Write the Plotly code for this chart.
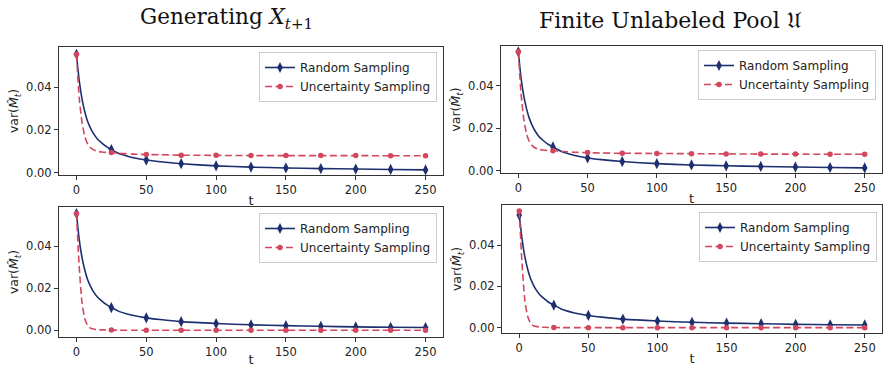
import plotly.graph_objects as go

# ---- data ----
t_dense = [0, 2, 4, 6, 8, 10, 12, 15, 18, 21, 25, 30, 35, 40, 50, 60, 75, 100, 125, 150, 175, 200, 225, 250]
t_marks = [0, 25, 50, 75, 100, 125, 150, 175, 200, 225, 250]

# Generating X_{t+1} (top-left)
rand_tl = [0.0555, 0.043, 0.0345, 0.0285, 0.0240, 0.0210, 0.0185, 0.0158, 0.0140, 0.0124, 0.0108, 0.0091, 0.0080, 0.0071, 0.0059, 0.0051, 0.0042, 0.0032, 0.0026, 0.0022, 0.0019, 0.0017, 0.0015, 0.0013]
unc_tl = [0.0555, 0.035, 0.0235, 0.0170, 0.0135, 0.0118, 0.0108, 0.0100, 0.0097, 0.0095, 0.0094, 0.0091, 0.0089, 0.0087, 0.0085, 0.0084, 0.0082, 0.0081, 0.0080, 0.0080, 0.0080, 0.0080, 0.0079, 0.0079]

# Finite Unlabeled Pool (top-right)
rand_tr = [0.0560, 0.0435, 0.0350, 0.0290, 0.0245, 0.0213, 0.0188, 0.0160, 0.0142, 0.0126, 0.0112, 0.0094, 0.0082, 0.0073, 0.0060, 0.0052, 0.0043, 0.0033, 0.0027, 0.0023, 0.0020, 0.0017, 0.0015, 0.0013]
unc_tr = [0.0560, 0.036, 0.0240, 0.0172, 0.0136, 0.0118, 0.0108, 0.0100, 0.0097, 0.0095, 0.0094, 0.0091, 0.0089, 0.0087, 0.0085, 0.0083, 0.0082, 0.0081, 0.0080, 0.0079, 0.0078, 0.0078, 0.0077, 0.0077]

# bottom-left
rand_bl = [0.0555, 0.043, 0.0345, 0.0285, 0.0240, 0.0210, 0.0185, 0.0158, 0.0140, 0.0124, 0.0108, 0.0091, 0.0080, 0.0071, 0.0059, 0.0051, 0.0041, 0.0032, 0.0026, 0.0022, 0.0019, 0.0016, 0.0014, 0.0013]
unc_bl = [0.0555, 0.030, 0.0130, 0.0055, 0.0022, 0.0010, 0.0006, 0.0003, 0.0002, 0.0001, 0.0001, 0.0, 0.0, 0.0, 0.0, 0.0, 0.0, 0.0, 0.0, 0.0, 0.0, 0.0, 0.0, 0.0]

# bottom-right
rand_br = [0.0545, 0.0430, 0.0345, 0.0285, 0.0240, 0.0210, 0.0185, 0.0158, 0.0140, 0.0124, 0.0109, 0.0092, 0.0080, 0.0071, 0.0059, 0.0051, 0.0041, 0.0032, 0.0026, 0.0022, 0.0019, 0.0016, 0.0014, 0.0013]
unc_br = [0.0565, 0.031, 0.0135, 0.0056, 0.0023, 0.0010, 0.0006, 0.0003, 0.0002, 0.0001, 0.0001, 0.0, 0.0, 0.0, 0.0, 0.0, 0.0, 0.0, 0.0, 0.0, 0.0, 0.0, 0.0, 0.0]

series_names = ["Random Sampling", "Uncertainty Sampling"]
titles = ["Generating <i>X</i><sub><i>t</i>+1</sub>", "Finite Unlabeled Pool 𝔘"]
x_ticks = [0, 50, 100, 150, 200, 250]
y_ticks = [0.0, 0.02, 0.04]
y_ticktext = ["0.00", "0.02", "0.04"]

BLUE = "#1d2f6f"
RED = "#d2475d"

W, H = 883, 367

def px_x(a, b):
    return [a / W, b / W]

def px_y(top, bot):
    return [1 - bot / H, 1 - top / H]

panels = [
    # (xdom px, ydom px, rand, unc, yrange, legend right px, legend top px)
    ((59, 443), (47, 175), rand_tl, unc_tl, [-0.0011, 0.0589], 437, 52),
    ((501, 882), (46, 173), rand_tr, unc_tr, [-0.0011, 0.0587], 876, 50),
    ((59, 443), (207, 337), rand_bl, unc_bl, [-0.0032, 0.0586], 437, 213),
    ((502, 882), (205, 333), rand_br, unc_br, [-0.0026, 0.0594], 877, 212),
]

fig = go.Figure()
layout = {}
font_ax = dict(family="DejaVu Sans", size=11.5, color="#222")

def lookup(ys, t):
    return ys[t_dense.index(t)]

for i, (xd, yd, rnd, unc, yr, lg_r, lg_t) in enumerate(panels):
    k = "" if i == 0 else str(i + 1)
    xa, ya = "x" + k, "y" + k
    lg = "legend" + k
    for name, ys, color, dash, sym, ms in [
        (series_names[0], rnd, BLUE, "solid", "diamond-tall", 8),
        (series_names[1], unc, RED, "7px,3.5px", "circle", 5.5),
    ]:
        # dense curve
        fig.add_trace(go.Scatter(
            x=t_dense, y=ys, mode="lines",
            line=dict(color=color, width=1.6, dash=dash, shape="spline", smoothing=0.6),
            xaxis=xa, yaxis=ya, showlegend=False, hoverinfo="skip",
        ))
        # markers every 25 steps
        fig.add_trace(go.Scatter(
            x=t_marks, y=[lookup(ys, t) for t in t_marks], mode="markers",
            marker=dict(symbol=sym, size=ms, color=color, line=dict(width=0)),
            xaxis=xa, yaxis=ya, showlegend=False,
        ))
        # legend entry
        fig.add_trace(go.Scatter(
            x=[None], y=[None], mode="lines+markers", name=name,
            line=dict(color=color, width=1.6, dash=dash),
            marker=dict(symbol=sym, size=ms, color=color, line=dict(width=0)),
            xaxis=xa, yaxis=ya, legend=lg, showlegend=True,
        ))
    layout["xaxis" + k] = dict(
        domain=px_x(*xd), anchor=ya, range=[-12.5, 262.5],
        tickvals=x_ticks, ticks="outside", ticklen=4, tickcolor="#333",
        showline=True, linecolor="#333", linewidth=1, mirror=True, showgrid=False, zeroline=False,
        tickfont=font_ax, automargin=False,
        title=dict(text="t", font=dict(family="DejaVu Sans", size=13, color="#222"), standoff=0),
    )
    layout["yaxis" + k] = dict(
        domain=px_y(*yd), anchor=xa, range=yr,
        tickvals=y_ticks, ticktext=y_ticktext, ticks="outside", ticklen=4, tickcolor="#333",
        showline=True, linecolor="#333", linewidth=1, mirror=True, showgrid=False, zeroline=False,
        tickfont=font_ax, automargin=False,
        title=dict(text="var(<i>M̂</i><sub><i>t</i></sub>)", font=dict(family="DejaVu Sans", size=12.5, color="#222"), standoff=4),
    )
    layout[lg] = dict(
        x=lg_r / W, y=1 - lg_t / H, xanchor="right", yanchor="top",
        xref="paper", yref="paper",
        bgcolor="rgba(255,255,255,0.85)", bordercolor="#cccccc", borderwidth=1,
        font=dict(family="DejaVu Sans", size=12, color="#222"),
        itemwidth=30, tracegroupgap=0,
    )

fig.update_layout(**layout)
fig.update_layout(
    width=W, height=H, margin=dict(l=0, r=0, t=0, b=0, autoexpand=False),
    plot_bgcolor="white", paper_bgcolor="white",
    annotations=[
        dict(text=titles[0], x=226 / W, y=1 - 18 / H, xref="paper", yref="paper", showarrow=False,
             font=dict(family="DejaVu Serif", size=21.5, color="#111"), xanchor="center", yanchor="middle"),
        dict(text=titles[1], x=670 / W, y=1 - 20 / H, xref="paper", yref="paper", showarrow=False,
             font=dict(family="DejaVu Serif", size=22, color="#111"), xanchor="center", yanchor="middle"),
    ],
)

fig.write_html(
    "out.html",
    config={"displayModeBar": False},
    post_script="document.body.style.margin='0';document.body.style.overflow='hidden';",
)
